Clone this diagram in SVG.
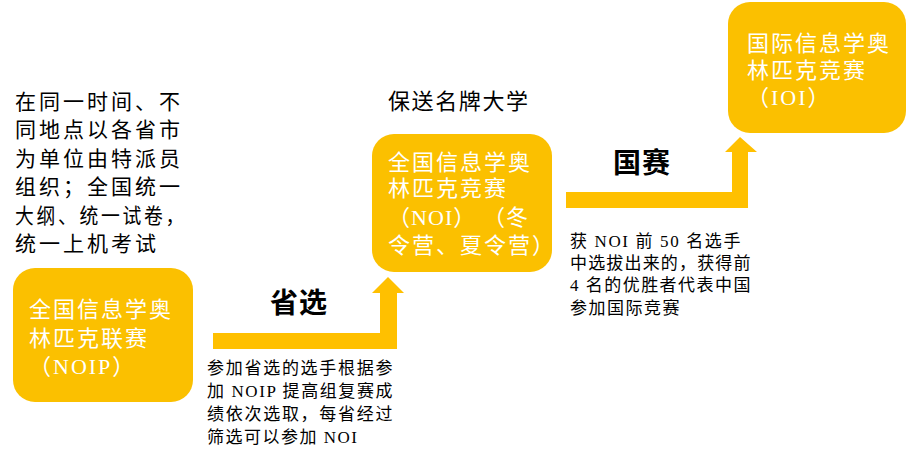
<svg xmlns="http://www.w3.org/2000/svg" width="908" height="456" viewBox="0 0 908 456">
<style>
.box{fill:#FBC000;}
.arrow{fill:#FFC000;}
.bt{font-family:"Liberation Serif","Noto Sans CJK SC",serif;font-size:22px;fill:#FFFFFF;letter-spacing:2px;}
.dk{font-family:"Liberation Serif","Noto Sans CJK SC",serif;fill:#000000;}
.lp{font-size:21px;letter-spacing:3px;}
.sm{font-size:17px;letter-spacing:1.5px;}
.lbl{font-size:28px;font-weight:bold;letter-spacing:1px;}
</style>
<rect width="908" height="456" fill="#FFFFFF"/>
<g id="connectors">
  <path class="arrow" d="M213,333 H380 V293 H372 L388,277 L404,293 H397 V349 H213 Z"/>
  <path class="arrow" d="M566,192 H732 V152 H725 L740,137 L757,152 H748 V208 H566 Z"/>
  <text class="dk lbl" x="270" y="313">省选</text>
  <text class="dk lbl" x="613" y="173">国赛</text>
</g>
<g id="desc-left">
  <text class="dk lp" x="15" y="109">在同一时间、不</text>
  <text class="dk lp" x="15" y="137">同地点以各省市</text>
  <text class="dk lp" x="15" y="166">为单位由特派员</text>
  <text class="dk lp" x="15" y="194">组织；全国统一</text>
  <text class="dk lp" x="15" y="223" textLength="172" lengthAdjust="spacingAndGlyphs">大纲、统一试卷，</text>
  <text class="dk lp" x="15" y="251">统一上机考试</text>
</g>
<g id="node-noip">
  <rect class="box" x="13" y="268" width="180" height="134" rx="22"/>
  <text class="bt" x="29" y="317">全国信息学奥</text>
  <text class="bt" x="29" y="346">林匹克联赛</text>
  <text class="bt" x="29" y="374">（NOIP）</text>
</g>
<g id="desc-provincial">
  <text class="dk sm" x="207" y="374" textLength="187" lengthAdjust="spacing">参加省选的选手根据参</text>
  <text class="dk sm" x="207" y="397" textLength="187" lengthAdjust="spacing">加 NOIP 提高组复赛成</text>
  <text class="dk sm" x="207" y="420" textLength="187" lengthAdjust="spacing">绩依次选取，每省经过</text>
  <text class="dk sm" x="207" y="443">筛选可以参加 NOI</text>
</g>
<g id="label-baosong">
  <text class="dk" x="388" y="109" style="font-size:22px;letter-spacing:1.6px">保送名牌大学</text>
</g>
<g id="node-noi">
  <rect class="box" x="372" y="134" width="180" height="138" rx="22"/>
  <text class="bt" x="388" y="170">全国信息学奥</text>
  <text class="bt" x="388" y="196">林匹克竞赛</text>
  <text class="bt" x="388" y="225" textLength="142" lengthAdjust="spacing">（NOI） （冬</text>
  <text class="bt" x="388" y="253">令营、夏令营）</text>
</g>
<g id="desc-national">
  <text class="dk sm" x="570" y="247" textLength="172" lengthAdjust="spacing">获 NOI 前 50 名选手</text>
  <text class="dk sm" x="570" y="269" textLength="182" lengthAdjust="spacing">中选拔出来的，获得前</text>
  <text class="dk sm" x="570" y="291" textLength="182" lengthAdjust="spacing">4 名的优胜者代表中国</text>
  <text class="dk sm" x="570" y="314">参加国际竞赛</text>
</g>
<g id="node-ioi">
  <rect class="box" x="728" y="2" width="178" height="131" rx="22"/>
  <text class="bt" x="747" y="51">国际信息学奥</text>
  <text class="bt" x="747" y="78">林匹克竞赛</text>
  <text class="bt" x="747" y="105">（IOI）</text>
</g>
</svg>
